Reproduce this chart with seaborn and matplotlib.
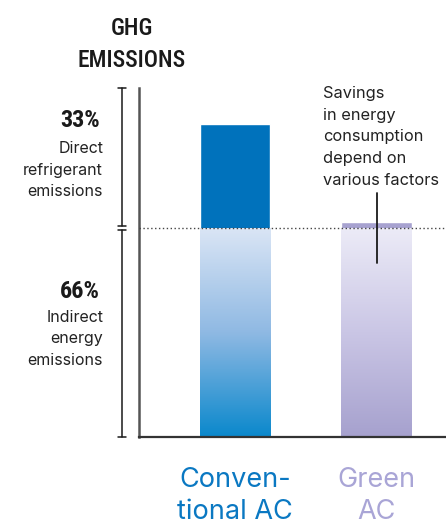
import numpy as np
import pandas as pd
import matplotlib
matplotlib.use("Agg")
import matplotlib.pyplot as plt
import matplotlib.transforms as mtransforms
from matplotlib.colors import LinearSegmentedColormap
import seaborn as sns

# Emission shares (%) per air-conditioner type
categories = ["Conven-\ntional AC", "Green\nAC"]
indirect_energy = [66, 66]
direct_refrigerant = [33, 2]
savings_spread = 11  # uncertainty of energy savings for the green AC
label_colors = ["#0a78c2", "#a9a5d6"]
top_colors = ["#0072bc", "#a7a2d0"]
gradients = [["#dae5f5", "#8fb9e3", "#0a88cc"], ["#ecebf7", "#cac6e5", "#a6a1ce"]]

sns.set_theme(style="white")
plt.rcParams["font.family"] = ["Inter", "DejaVu Sans"]

df = pd.DataFrame({
    "category": categories,
    "total": np.add(indirect_energy, direct_refrigerant),
})

fig = plt.figure(figsize=(4.46, 5.31), dpi=100)
ax = fig.add_axes([139 / 446, 94 / 531, 307 / 446, 349 / 531])

sns.barplot(data=df, x="category", y="total", hue="category",
            palette=top_colors, width=0.5, saturation=1, legend=False, ax=ax)

# gradient fill for the indirect-energy part of each bar (light at top, dark at base)
for patch, cols, base in zip(ax.patches, gradients, indirect_energy):
    x0 = patch.get_x()
    x1 = x0 + patch.get_width()
    cmap = LinearSegmentedColormap.from_list("g", cols)
    grad = np.linspace(0, 1, 256).reshape(-1, 1)
    ax.imshow(grad, cmap=cmap, extent=[x0, x1, 0, base], aspect="auto",
              origin="upper", zorder=patch.get_zorder() + 0.1, interpolation="bicubic")

ax.set_xlim(-0.678, 1.491)
ax.set_ylim(0, 110.3)

# dotted reference line at the indirect share
ax.axhline(indirect_energy[0], color="#444444", lw=1.0, ls=(0, (1, 1.8)), zorder=5)

# savings uncertainty line on the green AC bar
ax.plot([1, 1], [indirect_energy[1] - savings_spread, indirect_energy[1] + savings_spread],
        color="#1a1a1a", lw=1.3, zorder=6)

ax.set_xlabel("")
ax.set_ylabel("")
ax.set_yticks([])
ax.set_xticks([])
for s in ["top", "right"]:
    ax.spines[s].set_visible(False)
ax.spines["left"].set_color("#555555")
ax.spines["left"].set_linewidth(1.8)
ax.spines["bottom"].set_color("#333333")
ax.spines["bottom"].set_linewidth(1.6)

# category labels under the bars
for i, (lab, c) in enumerate(zip(categories, label_colors)):
    ax.text(i, -9.4, lab, ha="center", va="top", color=c, fontsize=19.5,
            linespacing=1.3, transform=ax.transData, clip_on=False)

# bracket left of the axis
bt = mtransforms.blended_transform_factory(ax.transAxes, ax.transData)
bx = -0.055
cap = 0.012
for lo, hi in [(0, indirect_energy[0] - 0.6), (indirect_energy[0] + 0.6, 110.3)]:
    ax.plot([bx, bx], [lo, hi], color="#1a1a1a", lw=1.1, transform=bt, clip_on=False)
    for y in (lo, hi):
        ax.plot([bx - cap, bx + cap], [y, y], color="#1a1a1a", lw=1.1,
                transform=bt, clip_on=False)

# left-side annotations
cond = dict(family=["Roboto Condensed", "DejaVu Sans"])
fig.text(132 / 446, 1 - 44.5 / 531, "GHG\nEMISSIONS", ha="center", va="center",
         fontsize=17, fontweight="medium", linespacing=1.45, color="#1a1a1a", **cond)
fig.text(100 / 446, 1 - 121 / 531, "33%", ha="right", va="center",
         fontsize=17.5, fontweight="bold", color="#1a1a1a", **cond)
fig.text(103 / 446, 1 - 170 / 531, "Direct\nrefrigerant\nemissions", ha="right",
         va="center", fontsize=11.5, linespacing=1.55, color="#222222")
fig.text(100 / 446, 1 - 292 / 531, "66%", ha="right", va="center",
         fontsize=17.5, fontweight="bold", color="#1a1a1a", **cond)
fig.text(103 / 446, 1 - 339 / 531, "Indirect\nenergy\nemissions", ha="right",
         va="center", fontsize=11.5, linespacing=1.55, color="#222222")

# note above the green AC bar
fig.text(323 / 446, 1 - 137 / 531,
         "Savings\nin energy\nconsumption\ndepend on\nvarious factors",
         ha="left", va="center", fontsize=11.8, linespacing=1.55, color="#222222")

fig.savefig("out.png", dpi=100)
